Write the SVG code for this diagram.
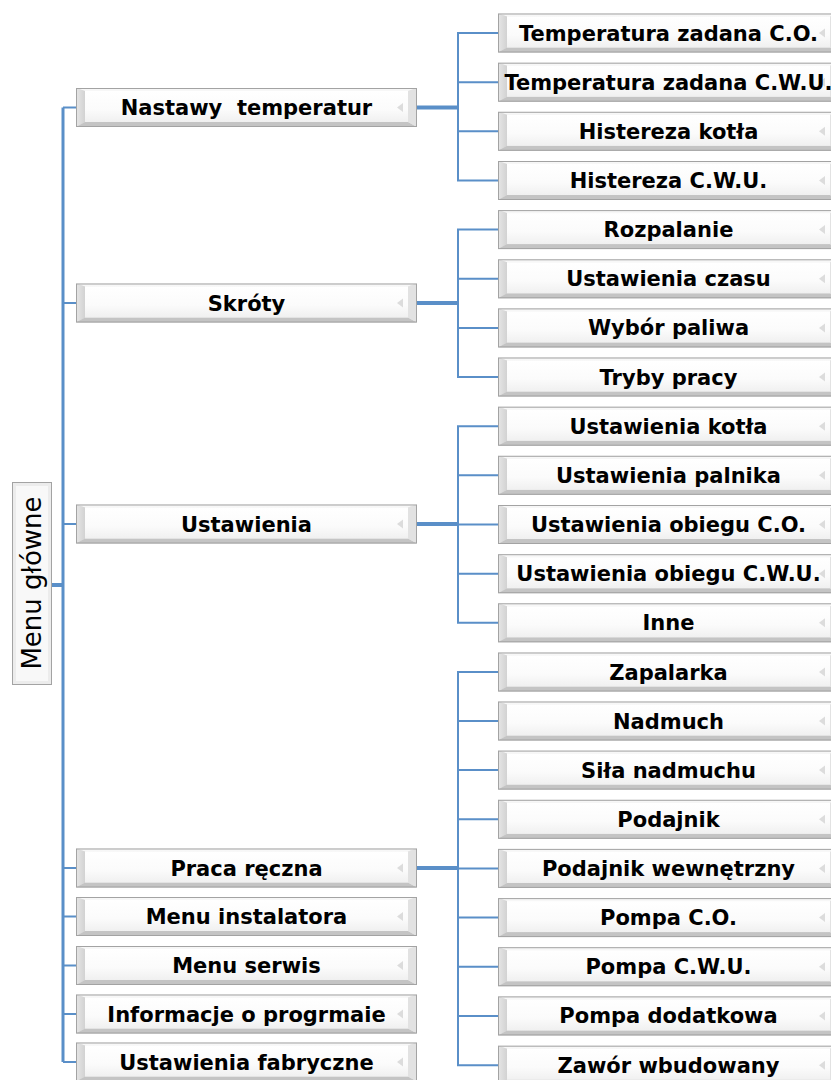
<svg xmlns="http://www.w3.org/2000/svg" xmlns:xlink="http://www.w3.org/1999/xlink" width="831" height="1080" viewBox="0 0 831 1080">
<style>
.lbl{font-family:"DejaVu Sans","Verdana",sans-serif;font-weight:bold;font-size:21px;fill:#000;text-anchor:middle}
.main{font-family:"DejaVu Sans","Verdana",sans-serif;font-size:26px;fill:#000;text-anchor:middle}
.ln{stroke:#5a8fc8;fill:none;stroke-width:2}
.thick{stroke:#5a8fc8;fill:none;stroke-width:4}
.trunk{stroke:#5a8fc8;fill:none;stroke-width:3}
</style>
<defs>
<linearGradient id="inner" x1="0" y1="0" x2="0" y2="1">
<stop offset="0" stop-color="#ffffff"/>
<stop offset="0.6" stop-color="#fbfbfb"/>
<stop offset="1" stop-color="#f0f0f0"/>
</linearGradient>
<linearGradient id="lbev" x1="0" y1="0" x2="1" y2="0">
<stop offset="0" stop-color="#e6e6e6"/>
<stop offset="1" stop-color="#d2d2d2"/>
</linearGradient>
<g id="box">
<rect x="0" y="0" width="341" height="39" fill="#e8e8e8"/>
<polygon points="0,0 341,0 332,3 9,3" fill="#f7f7f7"/>
<polygon points="0,0 9,3 9,34 0,39" fill="url(#lbev)"/>
<polygon points="0,39 9,34 332,34 341,39" fill="#c4c4c4"/>
<polygon points="341,0 332,3 332,34 341,39" fill="#e2e2e2"/>
<rect x="9" y="3" width="323" height="31" fill="url(#inner)"/>
<polygon points="321,19.5 327,15 327,24" fill="#dcdcdc"/>
<rect x="0.5" y="0.5" width="340" height="38" fill="none" stroke="#a3a3a3" stroke-width="1"/>
</g>
</defs>

<g id="connectors">
<path class="trunk" d="M63,107.5 V1062"/>
<path class="thick" d="M52,585 H63"/>
<path class="ln" d="M63,107.5 H76 M63,303 H76 M63,524 H76 M63,868 H76 M63,916.5 H76 M63,965.5 H76 M63,1014 H76 M63,1062 H76"/>
<path class="thick" d="M417,107.5 H458 M417,303 H458 M417,524 H458 M417,868 H458"/>
<path class="ln" d="M498,33 H458 V180.5 H498 M458,82.2 H498 M458,131.3 H498"/>
<path class="ln" d="M498,229.6 H458 V377 H498 M458,278.8 H498 M458,327.9 H498"/>
<path class="ln" d="M498,426.2 H458 V622.8 H498 M458,475.3 H498 M458,524.5 H498 M458,573.7 H498"/>
<path class="ln" d="M498,672 H458 V1065.2 H498 M458,721 H498 M458,770.1 H498 M458,819.3 H498 M458,868.4 H498 M458,917.6 H498 M458,966.7 H498 M458,1015.9 H498"/>
</g>

<g id="menu-glowne">
<rect x="12.5" y="482.5" width="39" height="202" fill="#ececec" stroke="#a3a3a3"/>
<rect x="16" y="486" width="32" height="195" fill="#f8f8f8"/>
<text class="main" transform="translate(41,583) rotate(-90)">Menu główne</text>
</g>

<g id="nastawy"><use xlink:href="#box" x="76" y="88"/><text class="lbl" x="246.5" y="115">Nastawy &#160;temperatur</text></g>
<g id="skroty"><use xlink:href="#box" x="76" y="283.5"/><text class="lbl" x="246.5" y="310.5">Skróty</text></g>
<g id="ustawienia"><use xlink:href="#box" x="76" y="504.5"/><text class="lbl" x="246.5" y="531.5">Ustawienia</text></g>
<g id="praca"><use xlink:href="#box" x="76" y="848.5"/><text class="lbl" x="246.5" y="875.5">Praca ręczna</text></g>
<g id="instalatora"><use xlink:href="#box" x="76" y="897"/><text class="lbl" x="246.5" y="924">Menu instalatora</text></g>
<g id="serwis"><use xlink:href="#box" x="76" y="946"/><text class="lbl" x="246.5" y="973">Menu serwis</text></g>
<g id="informacje"><use xlink:href="#box" x="76" y="994.5"/><text class="lbl" x="246.5" y="1021.5">Informacje o progrmaie</text></g>
<g id="fabryczne"><use xlink:href="#box" x="76" y="1042.5"/><text class="lbl" x="246.5" y="1069.5">Ustawienia fabryczne</text></g>

<g id="r0"><use xlink:href="#box" x="498" y="13.5"/><text class="lbl" x="668.5" y="40.5">Temperatura zadana C.O.</text></g>
<g id="r1"><use xlink:href="#box" x="498" y="62.7"/><text class="lbl" x="668.5" y="89.7">Temperatura zadana C.W.U.</text></g>
<g id="r2"><use xlink:href="#box" x="498" y="111.8"/><text class="lbl" x="668.5" y="138.8">Histereza kotła</text></g>
<g id="r3"><use xlink:href="#box" x="498" y="161"/><text class="lbl" x="668.5" y="188">Histereza C.W.U.</text></g>
<g id="r4"><use xlink:href="#box" x="498" y="210.1"/><text class="lbl" x="668.5" y="237.1">Rozpalanie</text></g>
<g id="r5"><use xlink:href="#box" x="498" y="259.3"/><text class="lbl" x="668.5" y="286.3">Ustawienia czasu</text></g>
<g id="r6"><use xlink:href="#box" x="498" y="308.4"/><text class="lbl" x="668.5" y="335.4">Wybór paliwa</text></g>
<g id="r7"><use xlink:href="#box" x="498" y="357.5"/><text class="lbl" x="668.5" y="384.5">Tryby pracy</text></g>
<g id="r8"><use xlink:href="#box" x="498" y="406.7"/><text class="lbl" x="668.5" y="433.7">Ustawienia kotła</text></g>
<g id="r9"><use xlink:href="#box" x="498" y="455.8"/><text class="lbl" x="668.5" y="482.8">Ustawienia palnika</text></g>
<g id="r10"><use xlink:href="#box" x="498" y="505"/><text class="lbl" x="668.5" y="532">Ustawienia obiegu C.O.</text></g>
<g id="r11"><use xlink:href="#box" x="498" y="554.2"/><text class="lbl" x="668.5" y="581.2">Ustawienia obiegu C.W.U.</text></g>
<g id="r12"><use xlink:href="#box" x="498" y="603.3"/><text class="lbl" x="668.5" y="630.3">Inne</text></g>
<g id="r13"><use xlink:href="#box" x="498" y="652.5"/><text class="lbl" x="668.5" y="679.5">Zapalarka</text></g>
<g id="r14"><use xlink:href="#box" x="498" y="701.5"/><text class="lbl" x="668.5" y="728.5">Nadmuch</text></g>
<g id="r15"><use xlink:href="#box" x="498" y="750.6"/><text class="lbl" x="668.5" y="777.6">Siła nadmuchu</text></g>
<g id="r16"><use xlink:href="#box" x="498" y="799.8"/><text class="lbl" x="668.5" y="826.8">Podajnik</text></g>
<g id="r17"><use xlink:href="#box" x="498" y="848.9"/><text class="lbl" x="668.5" y="875.9">Podajnik wewnętrzny</text></g>
<g id="r18"><use xlink:href="#box" x="498" y="898.1"/><text class="lbl" x="668.5" y="925.1">Pompa C.O.</text></g>
<g id="r19"><use xlink:href="#box" x="498" y="947.2"/><text class="lbl" x="668.5" y="974.2">Pompa C.W.U.</text></g>
<g id="r20"><use xlink:href="#box" x="498" y="996.4"/><text class="lbl" x="668.5" y="1023.4">Pompa dodatkowa</text></g>
<g id="r21"><use xlink:href="#box" x="498" y="1045.7"/><text class="lbl" x="668.5" y="1072.7">Zawór wbudowany</text></g>
</svg>
